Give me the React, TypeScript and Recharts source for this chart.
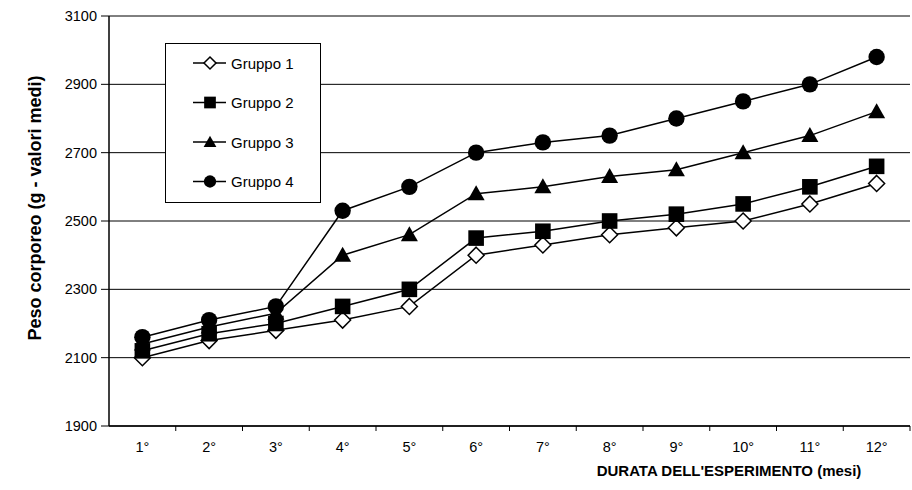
import React from 'react'
import {
  CartesianGrid,
  Legend,
  Line,
  LineChart,
  XAxis,
  YAxis,
} from 'recharts'

const months = ['1°', '2°', '3°', '4°', '5°', '6°', '7°', '8°', '9°', '10°', '11°', '12°']
const gruppo1 = [2100, 2150, 2180, 2210, 2250, 2400, 2430, 2460, 2480, 2500, 2550, 2610]
const gruppo2 = [2120, 2170, 2200, 2250, 2300, 2450, 2470, 2500, 2520, 2550, 2600, 2660]
const gruppo3 = [2140, 2190, 2230, 2400, 2460, 2580, 2600, 2630, 2650, 2700, 2750, 2820]
const gruppo4 = [2160, 2210, 2250, 2530, 2600, 2700, 2730, 2750, 2800, 2850, 2900, 2980]
const yTicks = [1900, 2100, 2300, 2500, 2700, 2900, 3100]
// category centres plus the boundaries between them (Excel-style tick marks)
const xTicks = [0.5, 1, 1.5, 2, 2.5, 3, 3.5, 4, 4.5, 5, 5.5, 6, 6.5, 7, 7.5, 8, 8.5, 9, 9.5, 10, 10.5, 11, 11.5, 12, 12.5]

const data = months.map((_, i) => ({
  m: i + 1,
  g1: gruppo1[i],
  g2: gruppo2[i],
  g3: gruppo3[i],
  g4: gruppo4[i],
}))

const FONT = '"Liberation Sans", Arial, sans-serif'

type Shape = 'diamond' | 'square' | 'triangle' | 'circle'

function Marker({ cx, cy, shape, k = 1 }: { cx: number; cy: number; shape: Shape; k?: number }) {
  if (shape === 'diamond') {
    const h = 8 * k
    return (
      <path
        d={`M${cx},${cy - h}L${cx + h},${cy}L${cx},${cy + h}L${cx - h},${cy}Z`}
        fill="#fff"
        stroke="#000"
        strokeWidth={1.5}
      />
    )
  }
  if (shape === 'square') {
    const h = 7.8 * k
    return <rect x={cx - h} y={cy - h} width={2 * h} height={2 * h} fill="#000" />
  }
  if (shape === 'triangle') {
    const w = 8.5 * k
    return <path d={`M${cx},${cy - 8.5 * k}L${cx + w},${cy + 6.5 * k}L${cx - w},${cy + 6.5 * k}Z`} fill="#000" />
  }
  return <circle cx={cx} cy={cy} r={8.2 * k} fill="#000" />
}

const series: { key: string; name: string; shape: Shape }[] = [
  { key: 'g1', name: 'Gruppo 1', shape: 'diamond' },
  { key: 'g2', name: 'Gruppo 2', shape: 'square' },
  { key: 'g3', name: 'Gruppo 3', shape: 'triangle' },
  { key: 'g4', name: 'Gruppo 4', shape: 'circle' },
]

function LegendBox() {
  return (
    <svg width={154} height={158} style={{ display: 'block' }}>
      {series.map((s, i) => {
        const y = 19 + i * 39.5
        return (
          <g key={s.key}>
            <line x1={27} x2={60} y1={y} y2={y} stroke="#000" strokeWidth={1.5} />
            <Marker cx={44} cy={y} shape={s.shape} k={0.75} />
            <text x={65} y={y + 5.5} fontSize={15} fontFamily={FONT} fill="#000">
              {s.name}
            </text>
          </g>
        )
      })}
    </svg>
  )
}

function XTick(props: any) {
  const { x, y, payload } = props
  const v = payload.value as number
  if (v % 1 !== 0) {
    if (v === 0.5) return null
    return <line x1={x} x2={x} y1={y} y2={y + 5} stroke="#000" strokeWidth={1} />
  }
  return (
    <text x={x} y={y + 26} textAnchor="middle" fontSize={14.5} fontFamily={FONT} fill="#000">
      {months[v - 1]}
    </text>
  )
}

export default function App() {
  return (
    <div style={{ position: 'absolute', left: 0, top: 0, width: 912, height: 490, background: '#fff' }}>
      <LineChart
        width={912}
        height={490}
        data={data}
        margin={{ top: 16, right: 2, bottom: 34, left: 0 }}
      >
        <CartesianGrid horizontal vertical={false} stroke="#000" strokeWidth={1} />
        <XAxis
          dataKey="m"
          type="number"
          domain={[0.5, 12.5]}
          ticks={xTicks}
          interval={0}
          tick={<XTick />}
          tickLine={false}
          tickSize={0}
          tickMargin={0}
          height={30}
          axisLine={{ stroke: '#000', strokeWidth: 1.5 }}
          label={{
            content: () => (
              <text x={729} y={476} textAnchor="middle" fontSize={15} fontWeight="bold" fontFamily={FONT} fill="#000">
                DURATA DELL'ESPERIMENTO (mesi)
              </text>
            ),
          }}
        />
        <YAxis
          domain={[1900, 3100]}
          ticks={yTicks}
          interval={0}
          width={109}
          tickSize={8}
          tickMargin={4}
          tick={{ fill: '#000', fontSize: 14.5, fontFamily: FONT }}
          tickLine={{ stroke: '#000' }}
          axisLine={{ stroke: '#000', strokeWidth: 1.5 }}
          label={{
            content: () => (
              <text
                x={35}
                y={208}
                transform="rotate(-90 35 208)"
                textAnchor="middle"
                dominantBaseline="central"
                fontSize={18}
                fontWeight="bold"
                fontFamily={FONT}
                fill="#000"
              >
                Peso corporeo (g - valori medi)
              </text>
            ),
          }}
        />
        <Legend
          layout="vertical"
          align="center"
          verticalAlign="middle"
          content={() => <LegendBox />}
          wrapperStyle={{
            left: 165,
            top: 43,
            width: 156,
            height: 160,
            border: '1px solid #000',
            background: '#fff',
            boxSizing: 'border-box',
          }}
        />
        {series.map((s) => (
          <Line
            key={s.key}
            dataKey={s.key}
            name={s.name}
            stroke="#000"
            strokeWidth={1.5}
            isAnimationActive={false}
            dot={(p: any) => <Marker key={`${s.key}-${p.index}`} cx={p.cx} cy={p.cy} shape={s.shape} />}
            activeDot={false}
          />
        ))}
      </LineChart>
    </div>
  )
}
